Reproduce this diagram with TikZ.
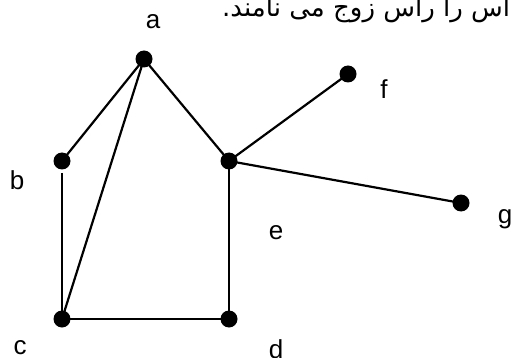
\documentclass[tikz,border=0pt]{standalone}
\usepackage{fontspec}
\setmainfont{Liberation Sans}
\newfontfamily\persianfont[Script=Arabic]{DejaVu Sans}
\TeXXeTstate=1
\usepackage{tikz}
\usetikzlibrary{positioning}

\begin{document}
\begin{tikzpicture}[
    x=1pt, y=-1pt,
    vertex/.style={circle, fill=black, inner sep=0pt, minimum size=17pt},
    vlabel/.style={inner sep=0pt, font=\fontsize{26}{30}\selectfont},
    edge/.style={line width=2.2pt, draw=black}
]
\useasboundingbox (0,0) rectangle (516,358);
% caption line, cut by the top and right edges
\node[anchor=base west, inner sep=0pt, font=\fontsize{26}{30}\selectfont] (caption) at (222,17)
  {\persianfont\beginR اس را راس زوج می نامند.\endR};

% vertices
\node[vertex] (a) at (144,59) {};
\node[vertex] (b) at (62,161) {};
\node[vertex] (c) at (62,319) {};
\node[vertex] (d) at (229,319) {};
\node[vertex] (e) at (229,161) {};
\node[vertex] (f) at (348,74) {};
\node[vertex] (g) at (461,203) {};

% vertex names
\node[vlabel] (la) at (153,22) {a};
\node[vlabel] (lb) at (17,180) {b};
\node[vlabel] (lc) at (20,348) {c};
\node[vlabel] (ld) at (276,349) {d};
\node[vlabel] (le) at (276,233) {e};
\node[vlabel] (lf) at (384,89) {f};
\node[vlabel] (lg) at (505,219) {g};

% edges
\draw[edge] (a.center) -- (b.center);
\draw[edge] (a.center) -- (c.center);
\draw[edge] (a.center) -- (e.center);
\draw[edge, shorten <=12pt] (b.center) -- (c.center);
\draw[edge] (c.center) -- (d.center);
\draw[edge] (d.center) -- (e.center);
\draw[edge] (e.center) -- (f.center);
\draw[edge] (e.center) -- (g.center);
\end{tikzpicture}
\end{document}
